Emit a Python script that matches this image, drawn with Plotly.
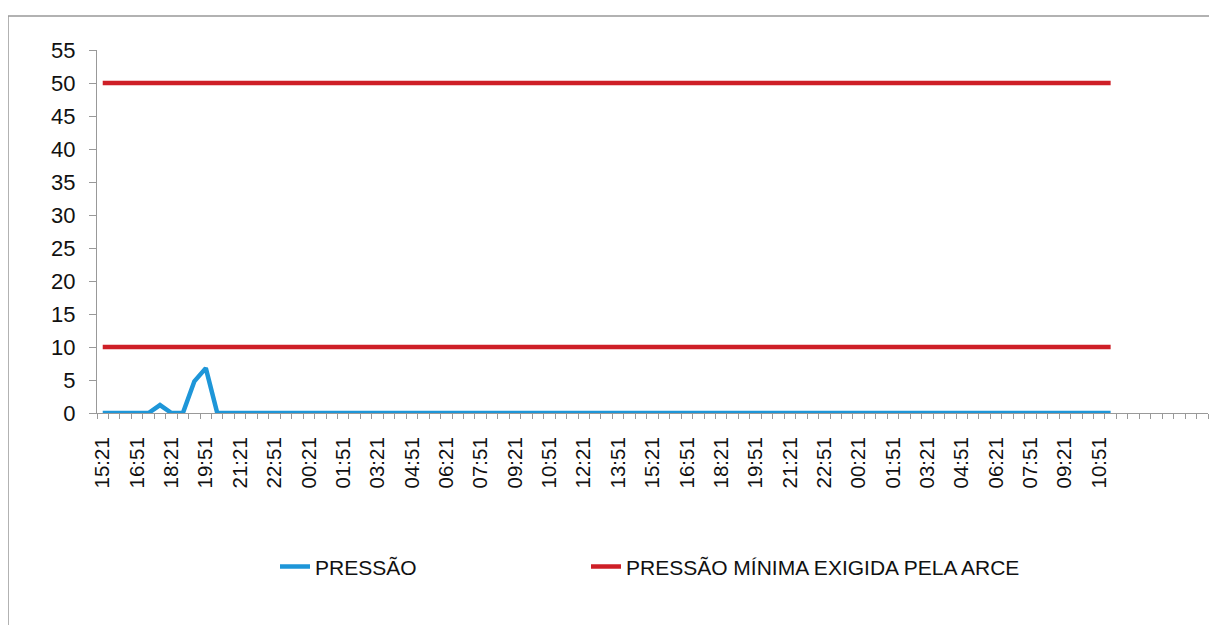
import plotly.graph_objects as go

# ---- data ----
label_times = ["15:21", "16:51", "18:21", "19:51", "21:21", "22:51", "00:21", "01:51",
               "03:21", "04:51", "06:21", "07:51", "09:21", "10:51", "12:21", "13:51",
               "15:21", "16:51", "18:21", "19:51", "21:21", "22:51", "00:21", "01:51",
               "03:21", "04:51", "06:21", "07:51", "09:21", "10:51"]
n_points = 89          # readings every 30 min (15:21 day 1 -> 11:21 day 3)
n_slots = 97           # category slots on the axis (last 8 empty)
pressao_start = [0, 0, 0, 0, 0, 1.2, 0, 0, 4.8, 6.8, 0]   # first readings, then 0
pressao = pressao_start + [0] * (n_points - len(pressao_start))
pressao_min_arce = [10] * n_points
pressao_max = [50] * n_points
series_names = ["PRESSÃO", "PRESSÃO MÍNIMA EXIGIDA PELA ARCE"]

idx = list(range(n_points))
tickvals = list(range(0, 3 * len(label_times), 3))

BLUE = "#1E96D8"
RED = "#CE1F27"
FONT = "Liberation Sans, Arial"

W, H = 1209, 617
L, T = 89, 42
PW, PH = 1111, 363

fig = go.Figure()
fig.add_trace(go.Scatter(x=idx, y=pressao, mode="lines", name=series_names[0],
                         line=dict(color=BLUE, width=4.5), legend="legend"))
fig.add_trace(go.Scatter(x=idx, y=pressao_min_arce, mode="lines", name=series_names[1],
                         line=dict(color=RED, width=4.5), legend="legend2"))
fig.add_trace(go.Scatter(x=idx, y=pressao_max, mode="lines", name="max",
                         line=dict(color=RED, width=4.5), showlegend=False))

legend_common = dict(orientation="h", yanchor="middle", y=-0.424, xanchor="left",
                     font=dict(size=21, family=FONT, color="#111"),
                     bgcolor="rgba(0,0,0,0)")

fig.update_layout(
    width=W, height=H,
    margin=dict(l=L, r=W - L - PW, t=T, b=H - T - PH),
    paper_bgcolor="white", plot_bgcolor="white",
    font=dict(family=FONT, color="#111"),
    showlegend=True,
    legend=dict(x=(275 - 8 - L) / PW, **legend_common),
    legend2=dict(x=(586 - 8 - L) / PW, **legend_common),
    xaxis=dict(range=[-0.5, n_slots - 0.5], tickmode="array", tickvals=tickvals,
               ticktext=label_times, tickangle=-90, ticks="", showgrid=False,
               zeroline=False, showline=True, linecolor="#999", linewidth=1,
               tickfont=dict(size=20.5, family=FONT, color="#111"), ticklabelstandoff=15,
               minor=dict(tickmode="linear", tick0=-0.5, dtick=1, ticks="outside",
                          ticklen=5, tickcolor="#999", showgrid=False)),
    yaxis=dict(range=[0, 55], tickmode="linear", tick0=0, dtick=5, ticks="outside",
               ticklen=7, tickcolor="#999", showgrid=False, zeroline=False,
               showline=True, linecolor="#999", linewidth=1,
               tickfont=dict(size=22, family=FONT, color="#111"), ticklabelstandoff=9),
    shapes=[dict(type="rect", xref="paper", yref="paper",
                 x0=(0 - L) / PW, x1=1.05, y0=-0.7, y1=(PH + T - 8) / PH,
                 line=dict(color="#999", width=1.5), fillcolor="rgba(0,0,0,0)", layer="below")],
)

fig.write_html("out.html")
